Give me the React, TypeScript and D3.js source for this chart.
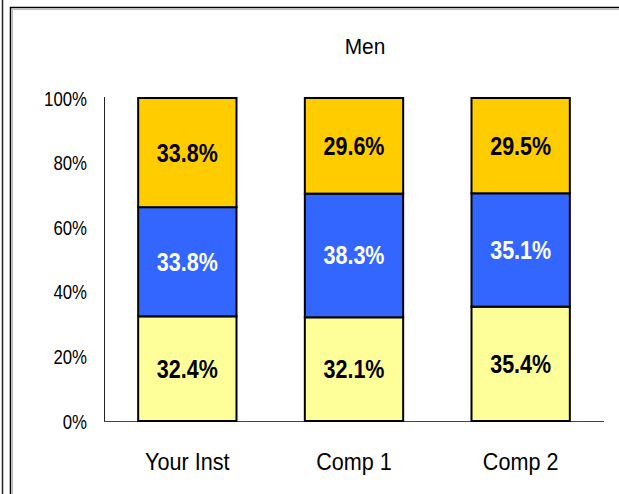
import React from "react";
import * as d3 from "d3";

const categories = ["Your Inst", "Comp 1", "Comp 2"];
const bottomValues = [32.4, 32.1, 35.4];
const middleValues = [33.8, 38.3, 35.1];
const topValues = [33.8, 29.6, 29.5];
const yTicks = [0, 20, 40, 60, 80, 100];
const title = "Men";

const seriesColors = ["#FFFF99", "#3366FF", "#FFCC00"];
const labelColors = ["#000000", "#FFFFFF", "#000000"];

const W = 619;
const H = 494;
const FONT = "'Liberation Sans', Arial, sans-serif";

function NText({ x, y, sx, anchor, size, weight, fill, children }: any) {
  return (
    <g transform={`translate(${x},${y}) scale(${sx},1)`}>
      <text x={0} y={0} dy="0.36em" textAnchor={anchor} fontFamily={FONT} fontSize={size} fontWeight={weight || "normal"} fill={fill || "#000"}>
        {children}
      </text>
    </g>
  );
}

export default function App() {
  const x = d3.scaleBand<string>().domain(categories).range([104, 604]).paddingInner(0.41).paddingOuter(0.205);
  const y = d3.scaleLinear().domain([0, 100]).range([421, 98]);

  const series = [bottomValues, middleValues, topValues];
  const stacks = categories.map((c, i) => {
    let acc = 0;
    return series.map((s, k) => {
      const y0 = acc;
      acc += s[i];
      return { k, y0, y1: acc, v: s[i] };
    });
  });

  return (
    <svg width={W} height={H} style={{ position: "absolute", left: 0, top: 0 }}>
      <rect x={0} y={0} width={W} height={H} fill="#fff" />
      <line x1={2.5} y1={0} x2={2.5} y2={H} stroke="#222" strokeWidth={1.5} />
      <path d={`M11.5,${H} V8.5 H${W}`} fill="none" stroke="#bbb" strokeWidth={1} transform="translate(1,1)" />
      <path d={`M10.5,${H} V7.5 H${W}`} fill="none" stroke="#000" strokeWidth={1.5} />
      <NText x={365} y={46} sx={0.95} anchor="middle" size={22}>{title}</NText>
      {yTicks.map((t) => (
        <NText key={t} x={87} y={y(t)} sx={0.8} anchor="end" size={21}>{t}%</NText>
      ))}
      <line x1={104.5} y1={97} x2={104.5} y2={421} stroke="#222" strokeWidth={1} />
      <line x1={104} y1={421.5} x2={604} y2={421.5} stroke="#444" strokeWidth={1} />
      {categories.map((c, i) => (
        <g key={c}>
          {stacks[i].map((s) => {
            const bx = x(c)!;
            const top = y(s.y1);
            const bot = y(s.y0);
            return (
              <g key={s.k}>
                <rect x={bx} y={top} width={x.bandwidth()} height={bot - top} fill={seriesColors[s.k]} stroke="#000" strokeWidth={2} />
                <NText x={bx + x.bandwidth() / 2} y={(top + bot) / 2} sx={0.86} anchor="middle" size={25} weight="bold" fill={labelColors[s.k]}>
                  {s.v.toFixed(1)}%
                </NText>
              </g>
            );
          })}
          <NText x={x(c)! + x.bandwidth() / 2} y={461} sx={0.9} anchor="middle" size={24}>{c}</NText>
        </g>
      ))}
    </svg>
  );
}
